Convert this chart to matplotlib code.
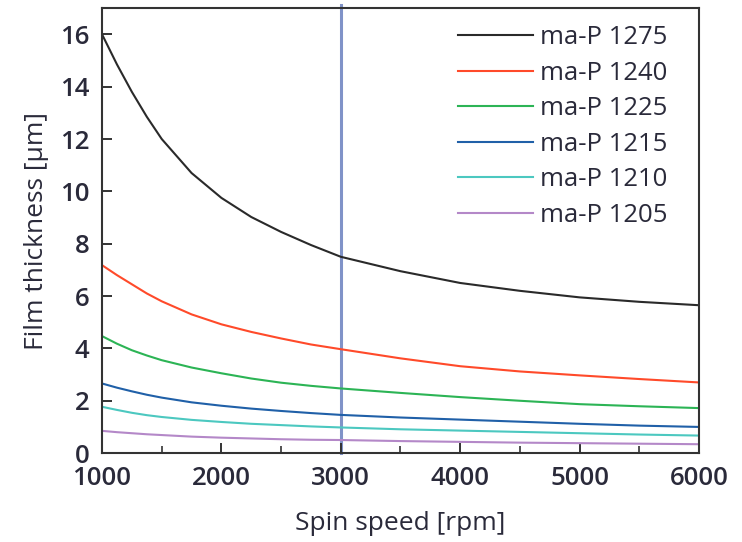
import matplotlib
matplotlib.use("Agg")
import matplotlib.pyplot as plt
from matplotlib.ticker import MultipleLocator

speed = [1000, 1125, 1250, 1375, 1500, 1750, 2000, 2250, 2500, 2750, 3000,
         3500, 4000, 4500, 5000, 5500, 6000]

mp1275 = [16.0, 14.85, 13.8, 12.85, 12.0, 10.7, 9.75, 9.02, 8.45, 7.95, 7.5,
          6.95, 6.5, 6.2, 5.95, 5.78, 5.65]
mp1240 = [7.18, 6.8, 6.45, 6.1, 5.8, 5.3, 4.92, 4.63, 4.38, 4.15, 3.97,
          3.62, 3.32, 3.12, 2.97, 2.83, 2.7]
mp1225 = [4.47, 4.18, 3.93, 3.73, 3.55, 3.27, 3.05, 2.85, 2.69, 2.57, 2.47,
          2.3, 2.14, 2.0, 1.87, 1.79, 1.72]
mp1215 = [2.66, 2.5, 2.36, 2.23, 2.12, 1.94, 1.81, 1.7, 1.61, 1.53, 1.46,
          1.36, 1.28, 1.2, 1.12, 1.05, 1.0]
mp1210 = [1.77, 1.65, 1.54, 1.45, 1.38, 1.27, 1.19, 1.12, 1.07, 1.02, 0.98,
          0.91, 0.86, 0.81, 0.76, 0.71, 0.67]
mp1205 = [0.85, 0.8, 0.76, 0.72, 0.69, 0.63, 0.59, 0.56, 0.53, 0.51, 0.5,
          0.46, 0.43, 0.4, 0.38, 0.36, 0.34]

labels = ["ma-P 1275", "ma-P 1240", "ma-P 1225", "ma-P 1215", "ma-P 1210", "ma-P 1205"]
series = [mp1275, mp1240, mp1225, mp1215, mp1210, mp1205]
colors = ["#2a2a2a", "#ff4a2a", "#2cb455", "#2060a8", "#4cc8c0", "#b488c8"]

marker_speed = 3000

plt.rcParams['font.family'] = ['Open Sans', 'DejaVu Sans']
txtc = "#2a2a3a"

fig = plt.figure(figsize=(7.42, 5.42), dpi=100)
ax = fig.add_axes([0.1375, 0.164, 0.8045, 0.821])

ax.axvline(marker_speed, ymax=1.008, color="#8093c8", lw=2.2, zorder=1, clip_on=False)
for y, lab, c in zip(series, labels, colors):
    ax.plot(speed, y, color=c, lw=1.5, label=lab, zorder=2)

ax.set_xlim(1000, 6000)
ax.set_ylim(0, 17)
ax.xaxis.set_major_locator(MultipleLocator(1000))
ax.xaxis.set_minor_locator(MultipleLocator(500))
ax.yaxis.set_major_locator(MultipleLocator(2))

for s in ax.spines.values():
    s.set_color("#333333")
    s.set_linewidth(1.5)

ax.tick_params(axis='both', which='major', direction='in', length=7, width=1.4,
               color="#333333", labelsize=18.5, labelcolor=txtc)
ax.tick_params(axis='x', which='minor', direction='in', length=5, width=1.2, color="#333333")
ax.tick_params(axis='x', which='major', pad=9)
ax.tick_params(axis='y', which='major', pad=9)
for t in ax.get_xticklabels() + ax.get_yticklabels():
    t.set_fontweight('semibold')

ax.set_xlabel("Spin speed [rpm]", fontsize=19, color=txtc, fontweight='medium')
ax.set_ylabel("Film thickness [µm]", fontsize=19, color=txtc, fontweight='medium')
ax.xaxis.set_label_coords(0.5, -0.13)
ax.yaxis.set_label_coords(-0.088, 0.5)

leg = fig.legend(*ax.get_legend_handles_labels(), loc='upper left', frameon=False,
                 fontsize=18.5, handlelength=2.92, handletextpad=0.27, labelspacing=0.41,
                 borderpad=0, borderaxespad=0,
                 bbox_to_anchor=(458 / 742, 1 - 25 / 542))
for t in leg.get_texts():
    t.set_color(txtc)
    t.set_fontweight('medium')

fig.savefig("out.png", dpi=100)
